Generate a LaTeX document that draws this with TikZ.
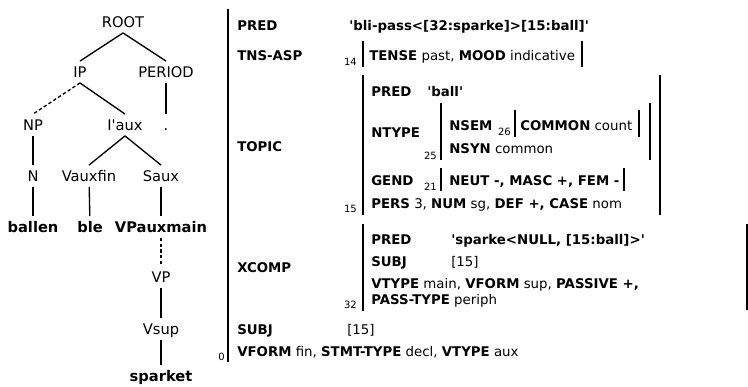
\documentclass[tikz,border=0pt]{standalone}
\usepackage{fontspec}
\setmainfont{DejaVu Sans}
\newcommand{\sq}{\textquotesingle}

\begin{document}
\begin{tikzpicture}[x=.75pt,y=-.75pt,
    cat/.style={font=\fontsize{11}{13}\selectfont,text height=8pt,text depth=0pt,inner xsep=1pt,inner ysep=4pt},
    wrd/.style={cat,font=\fontsize{11}{13}\selectfont\bfseries},
    edge/.style={line width=1pt},
    dashedge/.style={edge,dash pattern=on 2.5pt off 1.8pt},
    fs/.style={font=\fontsize{10}{12}\selectfont,anchor=base west,inner sep=0pt},
    att/.style={fs,font=\fontsize{10}{12}\selectfont\bfseries},
    idx/.style={font=\fontsize{7.5}{8}\selectfont,anchor=base east,inner sep=0pt},
    bar/.style={line width=1.5pt}]
  \useasboundingbox (0,0) rectangle (748,386);
  % c-structure
  \node[cat] (root) at (123,22) {ROOT};
  \node[cat] (ip) at (80,72) {IP};
  \node[cat] (period) at (166,72) {PERIOD};
  \node[cat] (np) at (33,125) {NP};
  \node[cat] (iaux) at (125,125) {I\sq aux};
  \node[cat] (dot) at (166,125) {.};
  \node[cat] (n) at (33,176) {N};
  \node[cat] (vauxfin) at (89,176) {Vauxfin};
  \node[cat] (saux) at (161,176) {Saux};
  \node[wrd] (ballen) at (33,227) {ballen};
  \node[wrd] (ble) at (90,227) {ble};
  \node[wrd] (vpauxmain) at (161,227) {VPauxmain};
  \node[cat] (vp) at (161,277) {VP};
  \node[cat] (vsup) at (161,329) {Vsup};
  \node[wrd] (sparket) at (161,376) {sparket};
  \draw[edge] (root.south) -- (ip.north);
  \draw[edge] (root.south) -- (period.north);
  \draw[dashedge] (ip.south) -- (np.north);
  \draw[edge] (ip.south) -- (iaux.north);
  \draw[edge] (period) -- (dot);
  \draw[edge] (np) -- (n);
  \draw[edge] (iaux.south) -- (vauxfin.north);
  \draw[edge] (iaux.south) -- (saux.north);
  \draw[edge] (n) -- (ballen);
  \draw[edge] (vauxfin) -- (ble);
  \draw[edge] (saux) -- (vpauxmain);
  \draw[dashedge] (vpauxmain) -- (vp);
  \draw[edge] (vp) -- (vsup);
  \draw[edge] (vsup) -- (sparket);
  % f-structure
  \node[att] (pred) at (237,30) {PRED};
  \node[att] (predval) at (349,30) {\sq bli-pass<[32:sparke]>[15:ball]\sq};
  \node[att] (tnsasp) at (237,60) {TNS-ASP};
  \node[fs] (tense) at (369,60) {\textbf{TENSE} past, \textbf{MOOD} indicative};
  \node[idx] (i14) at (357,65) {14};
  \draw[bar] (363,41) -- (363,67);
  \draw[bar] (582,41) -- (582,67);
  % topic
  \node[att] (topic) at (237,151) {TOPIC};
  \node[att] (tpred) at (371,96) {PRED};
  \node[att] (tpredval) at (427,96) {\sq ball\sq};
  \node[att] (ntype) at (371,137) {NTYPE};
  \node[att] (nsem) at (449,130) {NSEM};
  \node[idx] (i26) at (511,135) {26};
  \node[fs] (common) at (520,130) {\textbf{COMMON} count};
  \draw[bar] (515,110) -- (515,137);
  \draw[bar] (639,110) -- (639,137);
  \node[fs] (nsyn) at (449,153) {\textbf{NSYN} common};
  \node[idx] (i25) at (437,159) {25};
  \draw[bar] (441,103) -- (441,160);
  \draw[bar] (650,103) -- (650,160);
  \node[att] (gend) at (371,185) {GEND};
  \node[att] (neut) at (449,185) {NEUT -, MASC +, FEM -};
  \node[idx] (i21) at (437,190) {21};
  \draw[bar] (441,168) -- (441,191);
  \draw[bar] (624,168) -- (624,191);
  \node[fs] (pers) at (371,208) {\textbf{PERS} 3, \textbf{NUM} sg, \textbf{DEF +, CASE} nom};
  \node[idx] (i15) at (357,212) {15};
  \draw[bar] (363,75) -- (363,215);
  \draw[bar] (660,75) -- (660,215);
  % xcomp
  \node[att] (xcomp) at (237,272) {XCOMP};
  \node[att] (xpred) at (371,244) {PRED};
  \node[att] (xpredval) at (451,244) {\sq sparke<NULL, [15:ball]>\sq};
  \node[att] (xsubj) at (371,266) {SUBJ};
  \node[fs] (xsubjval) at (451,266) {[15]};
  \node[fs] (vtype) at (371,288) {\textbf{VTYPE} main, \textbf{VFORM} sup, \textbf{PASSIVE +,}};
  \node[fs] (passtype) at (371,304) {\textbf{PASS-TYPE} periph};
  \node[idx] (i32) at (357,308) {32};
  \draw[bar] (363,224) -- (363,311);
  \draw[line width=1pt] (747,224) -- (747,310);
  % outer
  \node[att] (subj) at (237,334) {SUBJ};
  \node[fs] (subjval) at (347,334) {[15]};
  \node[fs] (vform) at (237,356) {\textbf{VFORM} fin, \textbf{STMT-TYPE} decl, \textbf{VTYPE} aux};
  \node[idx] (i0) at (225,360) {0};
  \draw[bar] (228,9) -- (228,362);
\end{tikzpicture}
\end{document}
